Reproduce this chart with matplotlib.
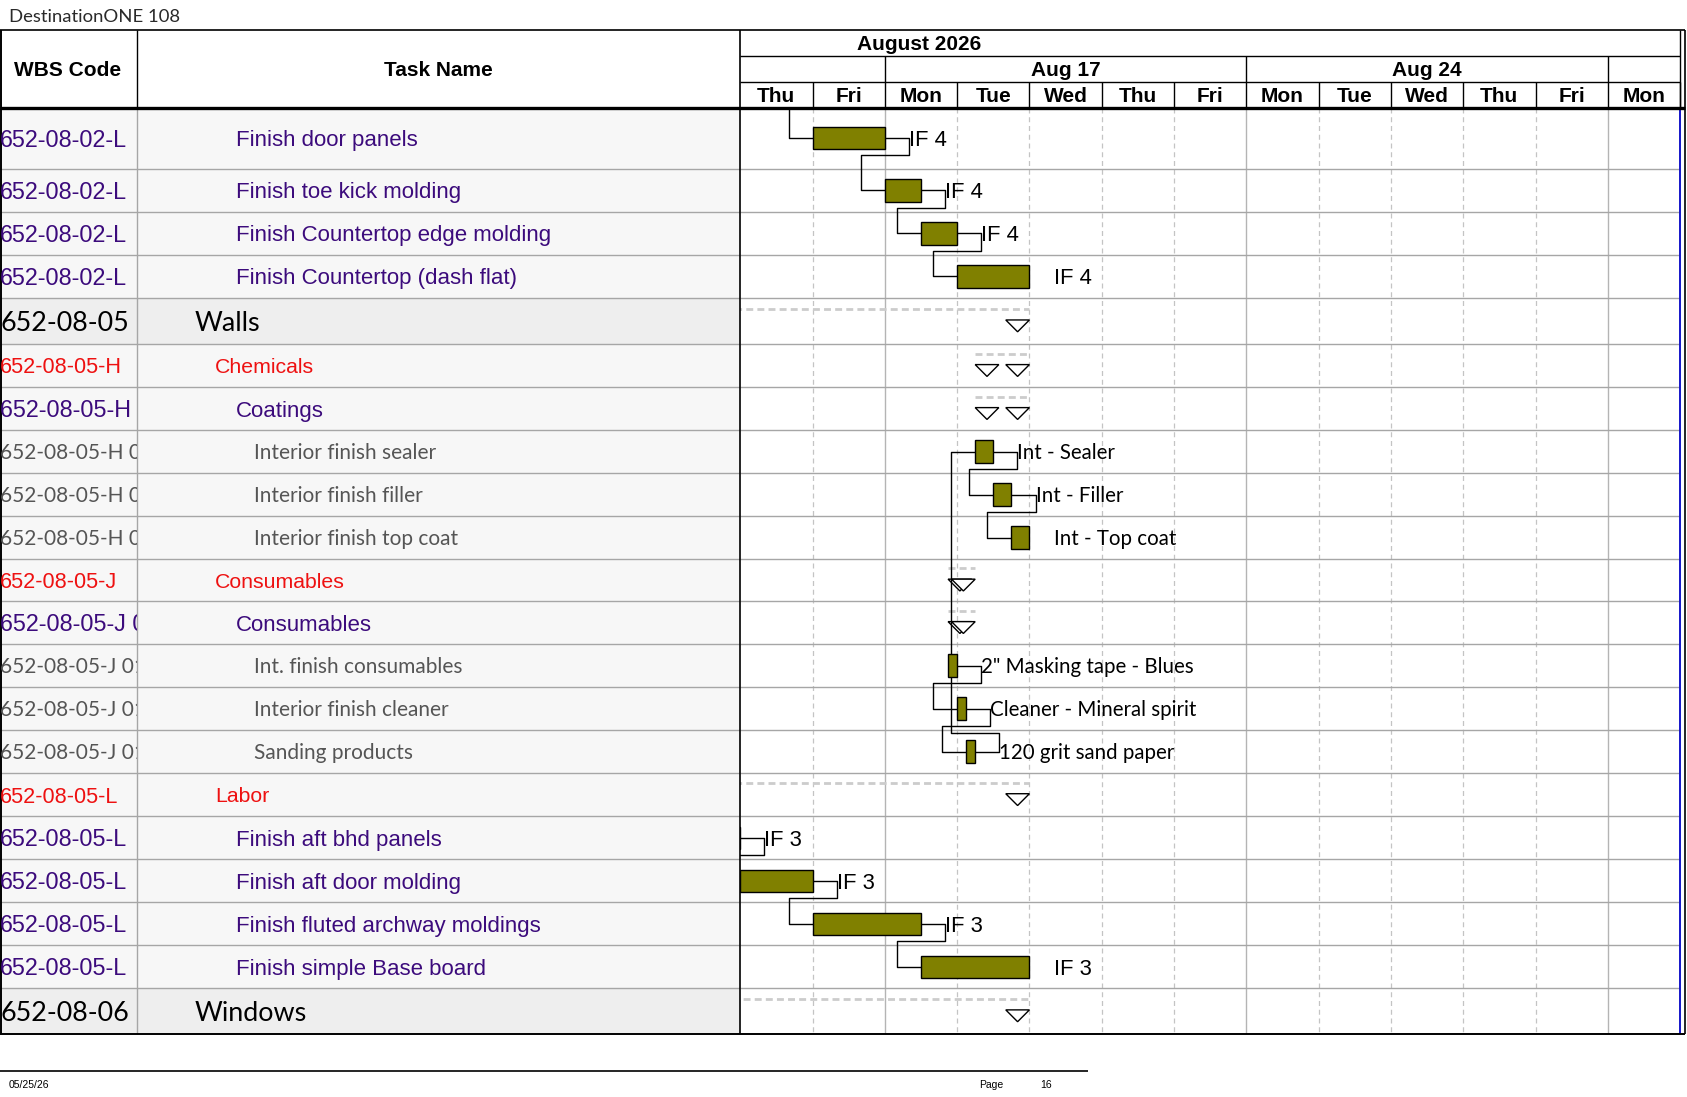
"""Gantt page: DestinationONE 108, Walls section (Aug 2026)."""
import numpy as np
import matplotlib
matplotlib.use("Agg")
import matplotlib.pyplot as plt
from matplotlib.patches import Rectangle, Polygon

# ---- data ----
wbs_codes = [
    "652-08-02-L", "652-08-02-L", "652-08-02-L", "652-08-02-L",
    "652-08-05", "652-08-05-H", "652-08-05-H 01",
    "652-08-05-H 01.01", "652-08-05-H 01.02", "652-08-05-H 01.03",
    "652-08-05-J", "652-08-05-J 01",
    "652-08-05-J 01.01", "652-08-05-J 01.02", "652-08-05-J 01.03",
    "652-08-05-L", "652-08-05-L", "652-08-05-L", "652-08-05-L", "652-08-05-L",
    "652-08-06",
]
task_names = [
    "Finish door panels", "Finish toe kick molding",
    "Finish Countertop edge molding", "Finish Countertop (dash flat)",
    "Walls", "Chemicals", "Coatings",
    "Interior finish sealer", "Interior finish filler", "Interior finish top coat",
    "Consumables", "Consumables",
    "Int. finish consumables", "Interior finish cleaner", "Sanding products",
    "Labor", "Finish aft bhd panels", "Finish aft door molding",
    "Finish fluted archway moldings", "Finish simple Base board",
    "Windows",
]
outline_level = [3, 3, 3, 3, 1, 2, 3, 4, 4, 4, 2, 3, 4, 4, 4, 2, 3, 3, 3, 3, 1]
row_kind = ["task", "task", "task", "task", "summary", "summary", "summary",
            "task", "task", "task", "summary", "summary", "task", "task", "task",
            "summary", "task", "task", "task", "task", "summary"]
# start / finish in working days from Thu Aug 13 2026
row_start = [1.0, 2.0, 2.5, 3.0, -1.0, 3.25, 3.25, 3.25, 3.5, 3.75,
             2.875, 2.875, 2.875, 3.0, 3.125, -1.0, -1.0, 0.0, 1.0, 2.5, -1.5]
row_finish = [2.0, 2.5, 3.0, 4.0, 4.0, 4.0, 4.0, 3.5, 3.75, 4.0,
              3.25, 3.25, 3.0, 3.125, 3.25, 4.0, 0.0, 1.0, 2.5, 4.0, 4.0]
bar_labels = ["IF 4", "IF 4", "IF 4", "IF 4", "", "", "",
              "Int - Sealer", "Int - Filler", "Int - Top coat", "", "",
              '2" Masking tape - Blues', "Cleaner - Mineral spirit",
              "120 grit sand paper", "", "IF 3", "IF 3", "IF 3", "IF 3", ""]
# finish-to-start links (predecessor row, successor row)
links = [(0, 1), (1, 2), (2, 3), (12, 13), (13, 14), (14, 7), (7, 8), (8, 9),
         (16, 17), (17, 18), (18, 19)]
links_from_prev_page = [0]

month_label = "August 2026"
week_labels = ["Aug 17", "Aug 24"]
week_starts = [2, 7, 12]
day_labels = ["Thu", "Fri", "Mon", "Tue", "Wed", "Thu", "Fri",
              "Mon", "Tue", "Wed", "Thu", "Fri", "Mon"]

# ---- layout (page pixels) ----
W, H = 1568, 1020
PT = 100 / 72 * H / 1097          # page px per point
TOP, HEAD_BOT, BOT = 28, 100, 961
COL1, GX0, GX1 = 127, 688, 1566
DAY_PX = 67.2
row_heights = [57, 40, 40, 40, 43, 40, 40, 40, 40, 40, 39,
               40, 40, 40, 40, 40, 40, 40, 40, 40, 42]
edges = HEAD_BOT + np.concatenate([[0], np.cumsum(row_heights)])
centers = (edges[:-1] + edges[1:]) / 2
indent = {1: 181, 2: 200, 3: 219, 4: 236}

ARIAL = "Liberation Sans"
CALIBRI = "Lato"
PURPLE = "#3c0b7c"
RED = "#ee1111"
GREY_TXT = "#555555"
OLIVE = "#808000"
GRID = "#a6a6a6"
LEAD, LAG, TRI = 0.335, 0.33, 0.327

styles = {
    1: dict(family=CALIBRI, size=19.4, color="black"),
    2: dict(family=ARIAL, size=15.3, color=RED),
    3: dict(family=ARIAL, size=16.0, color=PURPLE),
    4: dict(family=CALIBRI, size=15.0, color=GREY_TXT),
}
wbs_size = {1: 19.4, 2: 15.6, 3: 16.8, 4: 15.0}


def put(axis, x, yc, s, family, size, color="black", weight="normal", ha="left", **kw):
    # place text so that its capitals are centred on yc
    return axis.text(x, yc + 0.358 * size * PT, s, family=family, fontsize=size,
                     color=color, weight=weight, ha=ha, va="baseline", **kw)


fig = plt.figure(figsize=(16.87, 10.97), dpi=100)
ax = fig.add_axes([0, 0, 1, 1], zorder=2)
ax.set_xlim(0, W)
ax.set_ylim(H, 0)
ax.axis("off")

gx = fig.add_axes([GX0 / W, 1 - BOT / H, (GX1 - GX0) / W, (BOT - TOP) / H], zorder=1)
gx.set_xlim(0, (GX1 - GX0) / DAY_PX)
gx.set_ylim(BOT, TOP)
gx.axis("off")

wx = fig.add_axes([0, 1 - BOT / H, COL1 / W, (BOT - HEAD_BOT) / H], zorder=3)
wx.set_xlim(0, COL1)
wx.set_ylim(BOT, HEAD_BOT)
wx.axis("off")

n_days = len(day_labels)

# ---- left table ----
for i, h in enumerate(row_heights):
    face = "#eeeeee" if outline_level[i] == 1 else "#f7f7f7"
    ax.add_patch(Rectangle((0, edges[i]), GX0, h, facecolor=face, edgecolor="none"))
ax.hlines(edges[1:-1], 0, GX0, color=GRID, lw=1)
ax.vlines(COL1, HEAD_BOT, BOT, color=GRID, lw=1)

for i in range(len(task_names)):
    lvl = outline_level[i]
    st = dict(styles[lvl])
    put(ax, indent[lvl], centers[i], task_names[i], **st)
    st["size"] = wbs_size[lvl]
    put(wx, 0.0, centers[i], wbs_codes[i], clip_on=True, **st)

put(ax, 63, 64, "WBS Code", ARIAL, 15, weight="bold", ha="center")
put(ax, 407, 64, "Task Name", ARIAL, 15, weight="bold", ha="center")

# ---- timescale header ----
gx.hlines([52, 76], 0, n_days, color="black", lw=1)
gx.vlines(range(1, n_days + 1), 76, HEAD_BOT, color="black", lw=1)
gx.vlines(week_starts, 52, 76, color="black", lw=1)
gx.vlines(n_days, TOP, HEAD_BOT, color="black", lw=1)
put(gx, 2.47, 40, month_label, ARIAL, 15, weight="bold", ha="center")
for k, lab in enumerate(week_labels):
    put(gx, (week_starts[k] + week_starts[k + 1]) / 2, 64, lab, ARIAL, 15,
        weight="bold", ha="center")
for d, lab in enumerate(day_labels):
    put(gx, d + 0.5, 88, lab, ARIAL, 15, weight="bold", ha="center")

# ---- gantt grid ----
for d in range(1, n_days):
    if d in week_starts:
        gx.vlines(d, HEAD_BOT, BOT, color="#b4b4b4", lw=1)
    else:
        gx.vlines(d, HEAD_BOT, BOT, color="#c4c4c4", lw=0.9, linestyles=(0, (4, 3)))
gx.hlines(edges[1:-1], 0, n_days, color=GRID, lw=1)
gx.vlines(n_days, HEAD_BOT, BOT, color="#1414c8", lw=1.4)

# ---- bars, summaries, labels ----
for i in range(len(task_names)):
    s, f, c = row_start[i], row_finish[i], centers[i]
    if row_kind[i] == "summary":
        gx.plot([s, f], [c - 11, c - 11], color="#cccccc", lw=2,
                linestyle=(0, (2.5, 1.5)), zorder=2)
        for x0 in (s, f - TRI):
            gx.add_patch(Polygon([(x0, c - 1), (x0 + TRI, c - 1), (x0 + TRI / 2, c + 10)],
                                 closed=True, facecolor="white", edgecolor="black",
                                 lw=1, zorder=3))
    else:
        gx.barh(c, f - s, left=s, height=21, color=OLIVE, edgecolor="black",
                lw=1, zorder=4)
    if bar_labels[i]:
        fam = CALIBRI if outline_level[i] == 4 else ARIAL
        sz = 14.8 if outline_level[i] == 4 else 15.8
        put(gx, f + LEAD, c, bar_labels[i], fam, sz, zorder=5)

for p, q in links:
    xe, yp = row_finish[p], centers[p]
    xs, ys = row_start[q], centers[q]
    yt = yp + 16 if q > p else yp - 17
    gx.plot([xe, xe + LEAD, xe + LEAD, xs - LAG, xs - LAG, xs],
            [yp, yp, yt, yt, ys, ys], color="black", lw=1, zorder=3)
for q in links_from_prev_page:
    xs, ys = row_start[q], centers[q]
    gx.plot([xs - LAG, xs - LAG, xs], [HEAD_BOT, ys, ys], color="black", lw=1, zorder=3)

# ---- frame ----
ax.hlines(TOP, 0, GX1, color="black", lw=1.2)
ax.hlines(HEAD_BOT, 0, GX1, color="black", lw=2.4)
ax.hlines(BOT, 0, GX1, color="black", lw=1.4)
ax.vlines(0.5, TOP, BOT, color="black", lw=1.4)
ax.vlines(COL1, TOP, HEAD_BOT, color="black", lw=1)
ax.vlines(GX0, TOP, BOT, color="black", lw=1.2)
ax.vlines(GX1, TOP, BOT, color="black", lw=1.2)

put(ax, 8, 14, "DestinationONE 108", CALIBRI, 13.3, color="#2a2a2a")

# ---- footer ----
ax.hlines(996, 0, 1011, color="black", lw=1.2)
put(ax, 8, 1008, "05/25/26", ARIAL, 7.5)
put(ax, 910, 1008, "Page", ARIAL, 7.5)
put(ax, 967, 1008, "16", ARIAL, 7.5)

fig.savefig("out.png", dpi=100, facecolor="white")
